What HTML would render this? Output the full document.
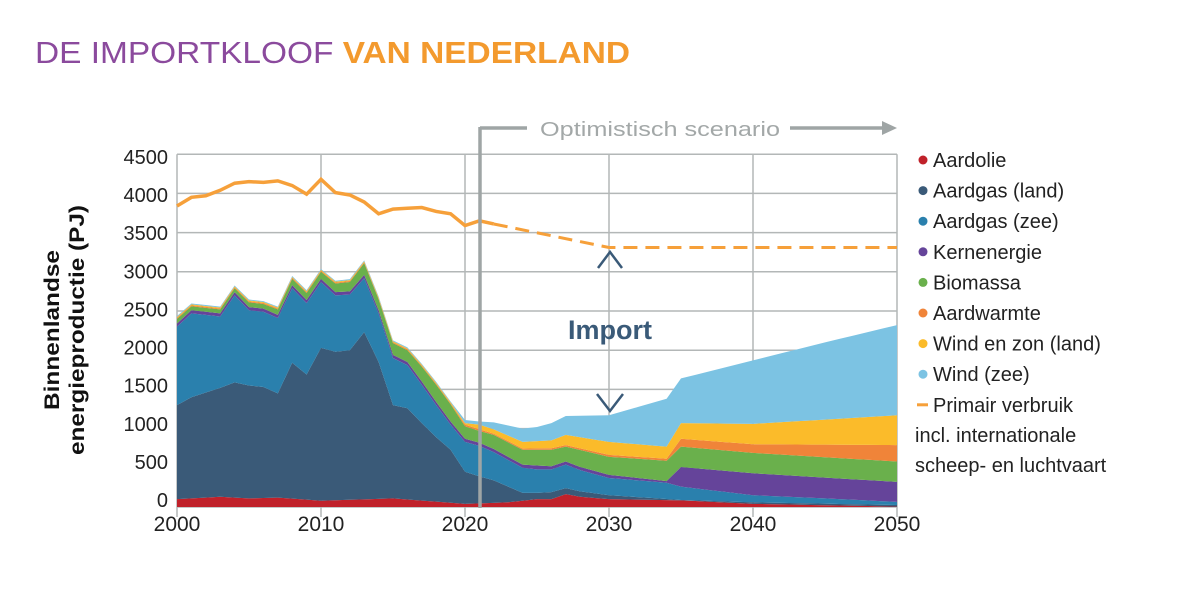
<!DOCTYPE html>
<html><head><meta charset="utf-8"><style>
body{margin:0;background:#fff;width:1200px;height:590px;overflow:hidden}
svg text{font-family:"Liberation Sans",sans-serif}
</style></head><body>
<svg id="s" width="1200" height="590" xmlns="http://www.w3.org/2000/svg">
<text x="35" y="63" font-size="31" textLength="595" lengthAdjust="spacingAndGlyphs"><tspan fill="#8b4a9d">DE IMPORTKLOOF </tspan><tspan fill="#f39a2e" font-weight="bold">VAN NEDERLAND</tspan></text>
<g id="grid" stroke="#b3b7b7" stroke-width="1.5"></g>
<g id="areas"></g>
<g id="labels" font-size="20" fill="#222"></g>
<text transform="translate(59,330) rotate(-90)" font-size="21" font-weight="bold" text-anchor="middle" fill="#111" textLength="160" lengthAdjust="spacingAndGlyphs">Binnenlandse</text>
<text transform="translate(84,330) rotate(-90)" font-size="21" font-weight="bold" text-anchor="middle" fill="#111" textLength="250" lengthAdjust="spacingAndGlyphs">energieproductie (PJ)</text>
<line x1="480" y1="127" x2="480" y2="508" stroke="#9fa5a5" stroke-width="3.5"/>
<line x1="480" y1="128" x2="527" y2="128" stroke="#9fa5a5" stroke-width="3.5"/>
<text x="540" y="136" font-size="20" fill="#a3a8a8" textLength="240" lengthAdjust="spacingAndGlyphs">Optimistisch scenario</text>
<line x1="790" y1="128" x2="888" y2="128" stroke="#9fa5a5" stroke-width="3.5"/>
<polygon points="882,121 897,128 882,135" fill="#9fa5a5"/>
<text x="610" y="339" font-size="27" font-weight="bold" fill="#3a5a78" text-anchor="middle">Import</text>
<polyline points="598,268 610,252 622,268" fill="none" stroke="#3a5a78" stroke-width="2.5"/>
<polyline points="597,394 610,411 623,394" fill="none" stroke="#3a5a78" stroke-width="2.5"/>
<g id="legend" font-size="20" fill="#222"></g>
</svg>
<script>
const X=y=>177+(y-2000)*14.4, Y=v=>507-v*0.0784;
const ns="http://www.w3.org/2000/svg";
function el(p,t,a,txt){const e=document.createElementNS(ns,t);for(const k in a)e.setAttribute(k,a[k]);if(txt!=null)e.textContent=txt;document.getElementById(p).appendChild(e);return e;}
for(let v=0;v<=4500;v+=500){el("grid","line",{x1:177,x2:897,y1:Y(v),y2:Y(v)});el("labels","text",{x:168,y:157+(4500-v)/4500*343+7,"text-anchor":"end"},v);}
for(let y=2000;y<=2050;y+=10){el("grid","line",{x1:X(y),x2:X(y),y1:Y(4500),y2:517});el("labels","text",{x:X(y),y:531,"text-anchor":"middle","font-size":"21"},y);}
function interp(k,yr){const ks=Object.keys(k).map(Number).sort((a,b)=>a-b);if(yr<=ks[0])return k[ks[0]];for(let i=1;i<ks.length;i++){if(yr<=ks[i]){const a=ks[i-1],b=ks[i];return k[a]+(k[b]-k[a])*(yr-a)/(b-a);}}return k[ks[ks.length-1]];}
const L=[
["#c0212a",{2000:100,2003:130,2005:110,2007:120,2010:80,2015:110,2020:40,2023:60,2025:100,2026:100,2027:165,2028:130,2030:100,2035:85,2040:40,2050:5}],
["#3a5a78",{2000:1300,2001:1400,2003:1520,2004:1590,2005:1550,2006:1530,2007:1450,2008:1840,2009:1690,2010:2030,2011:1980,2012:2000,2013:2230,2014:1850,2015:1300,2016:1260,2017:1070,2018:890,2019:730,2020:450,2021:390,2022:340,2024:180,2025:180,2026:190,2027:240,2028:200,2030:150,2035:90,2040:60,2050:25}],
["#2a80ad",{2000:2300,2001:2470,2003:2430,2004:2700,2005:2510,2006:2490,2007:2410,2008:2790,2009:2600,2010:2870,2011:2700,2012:2710,2013:2920,2014:2470,2015:1900,2016:1810,2017:1560,2018:1300,2019:1050,2020:830,2021:780,2022:700,2024:500,2025:480,2026:480,2027:540,2028:470,2030:370,2034:310,2035:260,2040:150,2045:110,2050:65}],
["#65449a",{2000:2340,2001:2510,2003:2470,2004:2740,2005:2550,2006:2530,2007:2450,2008:2830,2009:2640,2010:2910,2011:2740,2012:2750,2013:2960,2014:2510,2015:1940,2016:1850,2017:1600,2018:1340,2019:1090,2020:870,2021:820,2022:740,2024:540,2026:520,2027:580,2028:510,2030:410,2034:330,2035:510,2040:430,2050:320}],
["#6ab04c",{2000:2400,2001:2560,2003:2520,2004:2790,2005:2610,2006:2590,2007:2520,2008:2910,2009:2730,2010:3000,2011:2850,2012:2870,2013:3110,2014:2650,2015:2090,2016:2000,2017:1790,2018:1560,2019:1310,2020:1030,2021:970,2022:920,2024:730,2026:730,2027:770,2030:640,2034:590,2035:770,2040:690,2050:580}],
["#f08439",null,{2021:990,2022:935,2024:745,2026:750,2027:790,2030:665,2034:615,2035:870,2040:800,2050:790}],
["#fbbb2a",null,{2021:1050,2022:990,2024:830,2026:850,2027:920,2030:830,2034:770,2035:1070,2040:1060,2050:1170}],
["#7cc3e3",null,{2020:1110,2021:1090,2022:1080,2024:1000,2025:1020,2026:1070,2027:1160,2030:1170,2034:1380,2035:1640,2040:1870,2045:2100,2050:2320}]
];
const yrs=[];for(let y=2000;y<=2050;y++)yrs.push(y);
let prev=yrs.map(()=>0);
L.forEach((l,i)=>{let t=yrs.map((y,j)=>{let v;if(l[1])v=interp(l[1],y);else{const k=l[2];const first=Math.min(...Object.keys(k).map(Number));v=y<first?prev[j]+(y<2020?12:20):interp(k,y);}return Math.max(v,prev[j]);});
let pts=yrs.map((y,j)=>X(y)+","+Y(t[j])).concat(yrs.slice().reverse().map((y,j)=>X(y)+","+Y(prev[yrs.length-1-j])));
el("areas","polygon",{points:pts.join(" "),fill:l[0]});prev=t;});
const P={2000:3840,2001:3950,2002:3970,2003:4040,2004:4130,2005:4150,2006:4140,2007:4160,2008:4100,2009:3990,2010:4180,2011:4010,2012:3980,2013:3890,2014:3740,2015:3800,2016:3810,2017:3820,2018:3770,2019:3740,2020:3590,2021:3650,2022:3610};
let s=[];for(let y=2000;y<=2022;y++)s.push(X(y)+","+Y(P[y]));
el("areas","polyline",{points:s.join(" "),fill:"none",stroke:"#f6a03a","stroke-width":3.5});
el("areas","polyline",{points:[X(2022)+","+Y(3610),X(2030)+","+Y(3310),X(2050)+","+Y(3310)].join(" "),fill:"none",stroke:"#f6a03a","stroke-width":3,"stroke-dasharray":"14,8"});
const leg=[["#c0212a","Aardolie"],["#3a5a78","Aardgas (land)"],["#2a80ad","Aardgas (zee)"],["#65449a","Kernenergie"],["#6ab04c","Biomassa"],["#f08439","Aardwarmte"],["#fbbb2a","Wind en zon (land)"],["#7cc3e3","Wind (zee)"]];
leg.forEach((l,i)=>{const y=160+i*30.6;el("legend","circle",{cx:923,cy:y,r:4.5,fill:l[0]});el("legend","text",{x:933,y:y+7},l[1]);});
const yl=160+8*30.6;el("legend","line",{x1:917,x2:928,y1:yl,y2:yl,stroke:"#f6a03a","stroke-width":3});
el("legend","text",{x:933,y:yl+7},"Primair verbruik");
el("legend","text",{x:915,y:yl+37},"incl. internationale");
el("legend","text",{x:915,y:yl+67},"scheep- en luchtvaart");
</script>
</body></html>
